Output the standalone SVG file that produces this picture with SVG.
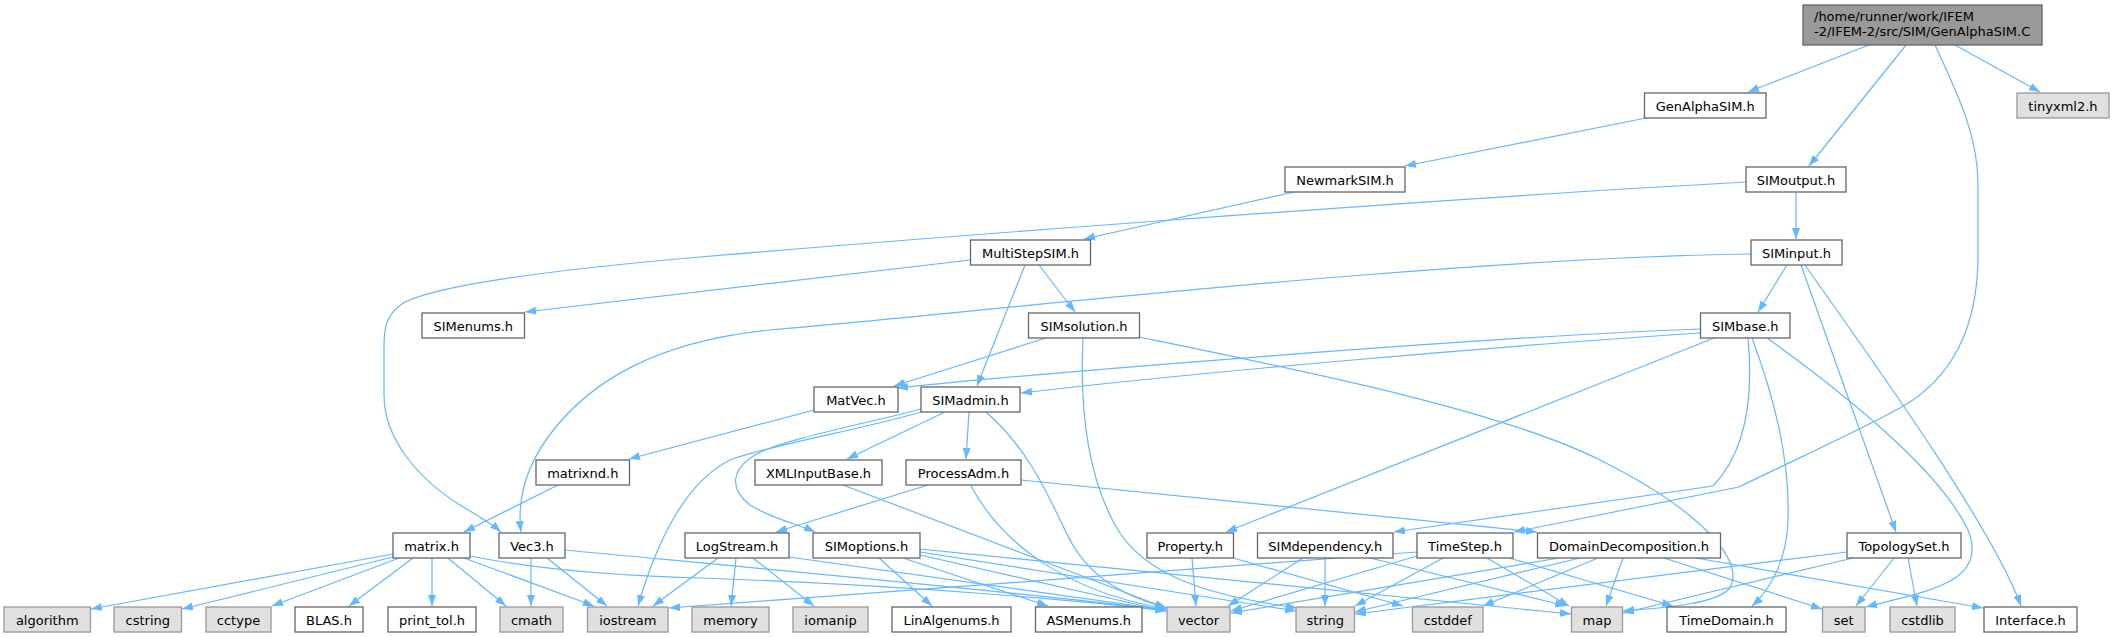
<svg xmlns="http://www.w3.org/2000/svg" width="2114" height="637" viewBox="0 0 2114 637">
<style>
.e{fill:none;stroke:#63b8ff;stroke-width:1.2;marker-end:url(#ah)}
.n rect{fill:#ffffff;stroke:#666666;stroke-width:1.3}
.s rect{fill:#e0e0e0;stroke:#999999;stroke-width:1.3}
.r rect{fill:#999999;stroke:#666666;stroke-width:1.3}
text{font-family:"DejaVu Sans","Liberation Sans",sans-serif;font-size:13px;fill:#000000}
.c{text-anchor:middle}
</style>
<defs>
<marker id="ah" markerUnits="userSpaceOnUse" markerWidth="12" markerHeight="8" refX="11" refY="4" orient="auto">
<path d="M0,0 L11,4 L0,8 z" fill="#63b8ff"/>
</marker>
</defs>
<rect width="2114" height="637" fill="#ffffff"/>
<g id="edges">
<path class="e" d="M1869,45 L1748,92"/>
<path class="e" d="M1906,45 L1809,166"/>
<path class="e" d="M1935,45 C1958,95 1978,135 1978,185 L1978,255 C1978,330 1950,380 1900,408 C1850,435 1790,462 1739,487 L1514,532"/>
<path class="e" d="M1955,45 L2040,92"/>
<path class="e" d="M1646,118 L1405,166"/>
<path class="e" d="M1294,192 L1084,239"/>
<path class="e" d="M1796,192 L1796,239"/>
<path class="e" d="M1746,182 C1400,201 900,240 700,257 C550,270 440,285 405,302 C388,312 384,325 384,345 L384,395 C384,440 420,480 460,505 C478,516 492,524 501,532"/>
<path class="e" d="M970.5,260 L525,312"/>
<path class="e" d="M1039,265 L1075,312"/>
<path class="e" d="M1025,265 L977,386"/>
<path class="e" d="M1787,265 L1758,312"/>
<path class="e" d="M1801,265 L1896,532"/>
<path class="e" d="M1805,265 C1850,330 1990,520 2021,606"/>
<path class="e" d="M1751,254 C1450,258 1000,310 770,330 C650,342 590,385 555,428 C525,465 517,500 521,532"/>
<path class="e" d="M1046,338 L894,386"/>
<path class="e" d="M1083,338 C1080,400 1085,470 1115,525 C1145,580 1220,597 1297,608"/>
<path class="e" d="M1139,337 C1300,370 1500,410 1600,460 C1700,510 1745,560 1730,588 C1715,605 1660,608 1623,611"/>
<path class="e" d="M1700,329 C1500,336 1050,372 897,388"/>
<path class="e" d="M1700,333 C1500,346 1200,372 1021,393"/>
<path class="e" d="M1714,338 L1226,532"/>
<path class="e" d="M1748,338 C1752,380 1752,445 1713,486 L1394,532"/>
<path class="e" d="M1752,338 C1775,400 1790,460 1788,520 C1787,560 1770,590 1752,606"/>
<path class="e" d="M1767,338 C1840,390 1940,470 1968,530 C1990,585 1920,592 1866,607"/>
<path class="e" d="M814,410 L629,459"/>
<path class="e" d="M558,485 L464,532"/>
<path class="e" d="M945,412 L847,459"/>
<path class="e" d="M969,412 L966,459"/>
<path class="e" d="M921,409 C860,425 780,440 755,455 C730,470 730,490 750,505 C770,518 800,525 815,532"/>
<path class="e" d="M921,412 C860,430 770,445 730,460 C690,480 660,530 638,606"/>
<path class="e" d="M986,412 C1030,450 1050,500 1065,530 C1085,575 1120,595 1167,608"/>
<path class="e" d="M843,485 L1166,608"/>
<path class="e" d="M928,485 L776,532"/>
<path class="e" d="M971,486 C1000,540 1060,590 1166,609"/>
<path class="e" d="M1021,480 L1537,532"/>
<path class="e" d="M393,554 L91,609"/>
<path class="e" d="M393,557 L182,609"/>
<path class="e" d="M399,558 L272,606"/>
<path class="e" d="M413,558 L349,606"/>
<path class="e" d="M432,558 L432,606"/>
<path class="e" d="M448,558 L506,606"/>
<path class="e" d="M464,558 L594,606"/>
<path class="e" d="M470,556 C540,570 620,576 700,578 C900,585 1080,600 1166,611"/>
<path class="e" d="M531,558 L531,606"/>
<path class="e" d="M547,558 L607,606"/>
<path class="e" d="M565,550 C700,563 1000,590 1166,610"/>
<path class="e" d="M718,558 L653,606"/>
<path class="e" d="M736,558 L731,606"/>
<path class="e" d="M753,558 L814,606"/>
<path class="e" d="M789,557 L1166,610"/>
<path class="e" d="M879,558 L932,606"/>
<path class="e" d="M903,558 L1048,606"/>
<path class="e" d="M920,555 L1166,611"/>
<path class="e" d="M920,552 L1296,611"/>
<path class="e" d="M920,549 L1571,614"/>
<path class="e" d="M1192,558 L1196,606"/>
<path class="e" d="M1233,558 L1403,606"/>
<path class="e" d="M1303,558 L1228,606"/>
<path class="e" d="M1325,558 L1325,606"/>
<path class="e" d="M1370,558 L1566,606"/>
<path class="e" d="M1509,558 L1673,606"/>
<path class="e" d="M1487,558 L1569,606"/>
<path class="e" d="M1443,558 L1355,606"/>
<path class="e" d="M1417,556 L1231,611"/>
<path class="e" d="M1417,552 C1200,570 900,590 669,608"/>
<path class="e" d="M1598,558 L1483,606"/>
<path class="e" d="M1623,558 L1606,606"/>
<path class="e" d="M1664,558 L1822,609"/>
<path class="e" d="M1696,558 L1983,608"/>
<path class="e" d="M1580,558 L1355,612"/>
<path class="e" d="M1559,558 L1231,613"/>
<path class="e" d="M1894,558 L1856,606"/>
<path class="e" d="M1908,558 L1917,606"/>
<path class="e" d="M1853,558 L1623,613"/>
<path class="e" d="M1847,552 L1355,614"/>
</g>
<g id="n_root" class="r"><rect x="1803" y="5" width="239" height="40"/><text x="1814" y="20.5">/home/runner/work/IFEM</text><text x="1814" y="35.5">-2/IFEM-2/src/SIM/GenAlphaSIM.C</text></g>
<g id="n_genalpha" class="n"><rect x="1644.5" y="93" width="121.5" height="25"/><text class="c" x="1705.25" y="110.5">GenAlphaSIM.h</text></g>
<g id="n_tinyxml2" class="s"><rect x="2017" y="93" width="92" height="25"/><text class="c" x="2063" y="110.5">tinyxml2.h</text></g>
<g id="n_newmark" class="n"><rect x="1285" y="167" width="120" height="25"/><text class="c" x="1345" y="184.5">NewmarkSIM.h</text></g>
<g id="n_simoutput" class="n"><rect x="1746" y="167" width="100" height="25"/><text class="c" x="1796" y="184.5">SIMoutput.h</text></g>
<g id="n_multistep" class="n"><rect x="970.5" y="240" width="120" height="25"/><text class="c" x="1030.5" y="257.5">MultiStepSIM.h</text></g>
<g id="n_siminput" class="n"><rect x="1751" y="240" width="91" height="25"/><text class="c" x="1796.5" y="257.5">SIMinput.h</text></g>
<g id="n_simenums" class="n"><rect x="422" y="313" width="102.5" height="25"/><text class="c" x="473.25" y="330.5">SIMenums.h</text></g>
<g id="n_simsolution" class="n"><rect x="1028.5" y="313" width="111" height="25"/><text class="c" x="1084" y="330.5">SIMsolution.h</text></g>
<g id="n_simbase" class="n"><rect x="1700.5" y="313" width="89.5" height="25"/><text class="c" x="1745.25" y="330.5">SIMbase.h</text></g>
<g id="n_matvec" class="n"><rect x="814" y="387" width="84" height="25"/><text class="c" x="856" y="404.5">MatVec.h</text></g>
<g id="n_simadmin" class="n"><rect x="921" y="387" width="99" height="25"/><text class="c" x="970.5" y="404.5">SIMadmin.h</text></g>
<g id="n_matrixnd" class="n"><rect x="536" y="460" width="93.5" height="25"/><text class="c" x="582.75" y="477.5">matrixnd.h</text></g>
<g id="n_xmlinputbase" class="n"><rect x="755" y="460" width="127" height="25"/><text class="c" x="818.5" y="477.5">XMLInputBase.h</text></g>
<g id="n_processadm" class="n"><rect x="906" y="460" width="115" height="25"/><text class="c" x="963.5" y="477.5">ProcessAdm.h</text></g>
<g id="n_matrix" class="n"><rect x="393" y="533" width="77" height="25"/><text class="c" x="431.5" y="550.5">matrix.h</text></g>
<g id="n_vec3" class="n"><rect x="499" y="533" width="66" height="25"/><text class="c" x="532" y="550.5">Vec3.h</text></g>
<g id="n_logstream" class="n"><rect x="685" y="533" width="104" height="25"/><text class="c" x="737" y="550.5">LogStream.h</text></g>
<g id="n_simoptions" class="n"><rect x="813" y="533" width="107" height="25"/><text class="c" x="866.5" y="550.5">SIMoptions.h</text></g>
<g id="n_property" class="n"><rect x="1147" y="533" width="86.5" height="25"/><text class="c" x="1190.25" y="550.5">Property.h</text></g>
<g id="n_simdependency" class="n"><rect x="1257.5" y="533" width="135.5" height="25"/><text class="c" x="1325.25" y="550.5">SIMdependency.h</text></g>
<g id="n_timestep" class="n"><rect x="1417" y="533" width="96" height="25"/><text class="c" x="1465" y="550.5">TimeStep.h</text></g>
<g id="n_domaindecomposition" class="n"><rect x="1537.5" y="533" width="183" height="25"/><text class="c" x="1629" y="550.5">DomainDecomposition.h</text></g>
<g id="n_topologyset" class="n"><rect x="1847" y="533" width="114" height="25"/><text class="c" x="1904" y="550.5">TopologySet.h</text></g>
<g id="n_algorithm" class="s"><rect x="4" y="607" width="86.5" height="25"/><text class="c" x="47.25" y="624.5">algorithm</text></g>
<g id="n_cstring" class="s"><rect x="114" y="607" width="67.5" height="25"/><text class="c" x="147.75" y="624.5">cstring</text></g>
<g id="n_cctype" class="s"><rect x="206" y="607" width="65" height="25"/><text class="c" x="238.5" y="624.5">cctype</text></g>
<g id="n_blas" class="n"><rect x="295" y="607" width="68" height="25"/><text class="c" x="329" y="624.5">BLAS.h</text></g>
<g id="n_printtol" class="n"><rect x="388" y="607" width="88" height="25"/><text class="c" x="432" y="624.5">print_tol.h</text></g>
<g id="n_cmath" class="s"><rect x="500" y="607" width="63" height="25"/><text class="c" x="531.5" y="624.5">cmath</text></g>
<g id="n_iostream" class="s"><rect x="587.5" y="607" width="80.5" height="25"/><text class="c" x="627.75" y="624.5">iostream</text></g>
<g id="n_memory" class="s"><rect x="692" y="607" width="77" height="25"/><text class="c" x="730.5" y="624.5">memory</text></g>
<g id="n_iomanip" class="s"><rect x="793" y="607" width="75" height="25"/><text class="c" x="830.5" y="624.5">iomanip</text></g>
<g id="n_linalgenums" class="n"><rect x="892" y="607" width="119" height="25"/><text class="c" x="951.5" y="624.5">LinAlgenums.h</text></g>
<g id="n_asmenums" class="n"><rect x="1035.5" y="607" width="106.5" height="25"/><text class="c" x="1088.75" y="624.5">ASMenums.h</text></g>
<g id="n_vector" class="s"><rect x="1167" y="607" width="63" height="25"/><text class="c" x="1198.5" y="624.5">vector</text></g>
<g id="n_string" class="s"><rect x="1296" y="607" width="58.5" height="25"/><text class="c" x="1325.25" y="624.5">string</text></g>
<g id="n_cstddef" class="s"><rect x="1412.5" y="607" width="70.5" height="25"/><text class="c" x="1447.75" y="624.5">cstddef</text></g>
<g id="n_map" class="s"><rect x="1571.5" y="607" width="51" height="25"/><text class="c" x="1597" y="624.5">map</text></g>
<g id="n_timedomain" class="n"><rect x="1667" y="607" width="119" height="25"/><text class="c" x="1726.5" y="624.5">TimeDomain.h</text></g>
<g id="n_set" class="s"><rect x="1822.5" y="607" width="42.5" height="25"/><text class="c" x="1843.75" y="624.5">set</text></g>
<g id="n_cstdlib" class="s"><rect x="1890" y="607" width="65" height="25"/><text class="c" x="1922.5" y="624.5">cstdlib</text></g>
<g id="n_interface" class="n"><rect x="1984" y="607" width="93" height="25"/><text class="c" x="2030.5" y="624.5">Interface.h</text></g>
</svg>
